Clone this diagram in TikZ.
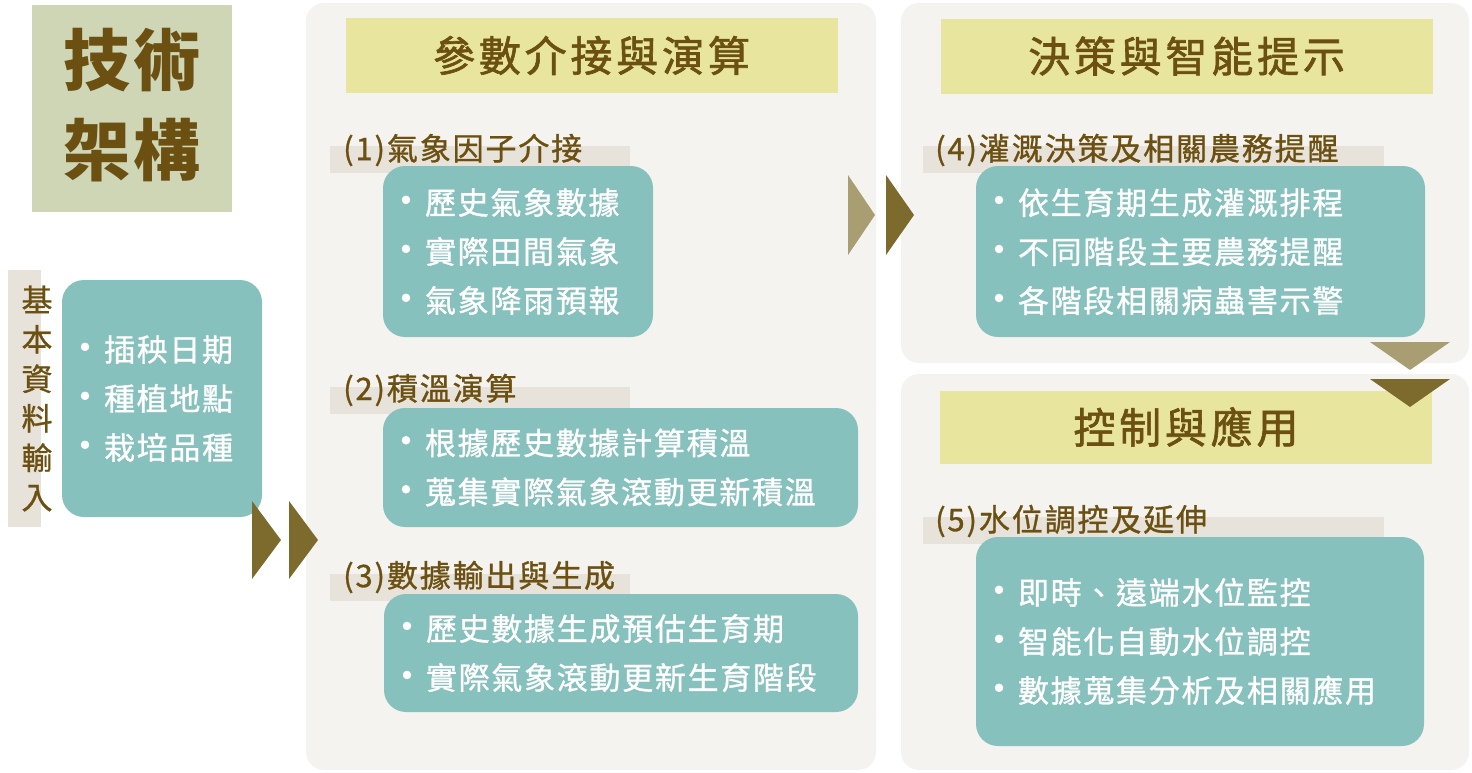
\documentclass[tikz,border=0pt]{standalone}
\usepackage{fontspec}
\setmainfont{Noto Sans CJK TC}
\newfontfamily\titlefont[LetterSpace=4]{Noto Sans CJK TC}
\newfontfamily\headfont[LetterSpace=9, FakeBold=1.5]{Noto Sans CJK TC}
\newfontfamily\labelfont[LetterSpace=6, FakeBold=1]{Noto Sans CJK TC}
\newfontfamily\itemfont[LetterSpace=5.5, FakeBold=1]{Noto Sans CJK TC}
\newfontfamily\sidefont[FakeBold=1]{Noto Sans CJK TC}
\usetikzlibrary{positioning}

\definecolor{txtbrown}{HTML}{6B5012}
\definecolor{titlebg}{HTML}{CED6B6}
\definecolor{tealbg}{HTML}{87C1BE}
\definecolor{panelbg}{HTML}{F4F3EF}
\definecolor{headbg}{HTML}{E8E69E}
\definecolor{stripbg}{HTML}{E7E3DA}
\definecolor{arrdark}{HTML}{7C6B2D}
\definecolor{arrlight}{HTML}{A89E72}

\newcommand{\bul}{\makebox[22pt][l]{\makebox[6pt][c]{\fontsize{38}{38}\selectfont\textbullet}}}

\begin{document}
\begin{tikzpicture}[
        x=1pt, y=-1pt,
        panel/.style = {rectangle, rounded corners=18pt, fill=panelbg, inner sep=0pt},
        header/.style = {rectangle, fill=headbg, inner sep=0pt, minimum width=492pt, minimum height=75pt, text=txtbrown, font=\headfont\fontsize{42}{42}\selectfont},
        strip/.style = {rectangle, fill=stripbg, inner sep=0pt, minimum height=27pt},
        subhead/.style = {anchor=west, inner sep=0pt, text=txtbrown, font=\labelfont\fontsize{31}{31}\selectfont},
        tealbox/.style = {rectangle, rounded corners=22pt, fill=tealbg, text=white, align=left, inner xsep=20pt, inner ysep=0pt, font=\itemfont\fontsize{31}{49}\selectfont}
    ]
        \useasboundingbox (0,0) rectangle (1472,772);

        % Title
        \node[rectangle, fill=titlebg, minimum width=200pt, minimum height=207pt, inner sep=0pt] (title) at (132,108.5) {};
        \node[align=center, text=txtbrown, font=\titlefont\bfseries\fontsize{67}{90}\selectfont] (titletext) at (132,105) {技術\\架構};

        % Basic data input
        \node[strip, minimum width=33pt, minimum height=257pt] (basicstrip) at (24.5,398.5) {};
        \node[align=center, inner sep=0pt, text=txtbrown, font=\sidefont\fontsize{31}{39.5}\selectfont] (basiclbl) at (37,398.5) {基\\本\\資\\料\\輸\\入};
        \node[tealbox, text width=160pt, minimum height=237pt] (basicbox) at (162,398.5) {\bul 插秧日期\\ \bul 種植地點\\ \bul 栽培品種};

        % Panels
        \node[panel, minimum width=570pt, minimum height=767pt] (midpanel) at (591,386.5) {};
        \node[panel, minimum width=568pt, minimum height=360pt] (decpanel) at (1185,183) {};
        \node[panel, minimum width=568pt, minimum height=396pt] (ctlpanel) at (1185,572) {};

        % Headers
        \node[header] (midhead) at (591.5,55.5) {參數介接與演算};
        \node[header] (dechead) at (1186.5,56) {決策與智能提示};
        \node[header, minimum height=73pt] (ctlhead) at (1186,427) {控制與應用};

        % Label strips
        \node[strip, minimum width=300pt] (weatherstrip) at (480,159.5) {};
        \node[strip, minimum width=300pt] (heatstrip) at (480,400.5) {};
        \node[strip, minimum width=300pt] (outstrip) at (480,587.5) {};
        \node[strip, minimum width=461pt] (irrstrip) at (1153.5,159.5) {};
        \node[strip, minimum width=461pt] (waterstrip) at (1153.5,530.5) {};

        % Item boxes
        \node[tealbox, text width=230pt, minimum height=171pt] (weatherbox) at (518,251.5) {\bul 歷史氣象數據\\ \bul 實際田間氣象\\ \bul 氣象降雨預報};
        \node[tealbox, text width=435pt, minimum height=119pt] (heatbox) at (620.5,467.5) {\bul 根據歷史數據計算積溫\\ \bul 蒐集實際氣象滾動更新積溫};
        \node[tealbox, text width=434pt, minimum height=118pt] (outbox) at (621,653) {\bul 歷史數據生成預估生育期\\ \bul 實際氣象滾動更新生育階段};
        \node[tealbox, text width=409pt, minimum height=171pt] (irrbox) at (1200.5,251.5) {\bul 依生育期生成灌溉排程\\ \bul 不同階段主要農務提醒\\ \bul 各階段相關病蟲害示警};
        \node[tealbox, text width=408pt, minimum height=209pt] (waterbox) at (1200,641.5) {\bul 即時、遠端水位監控\\ \bul 智能化自動水位調控\\ \bul 數據蒐集分析及相關應用};

        % Labels
        \node[subhead] (weatherlbl) at (343,150) {(1)氣象因子介接};
        \node[subhead] (heatlbl) at (343,390) {(2)積溫演算};
        \node[subhead] (outlbl) at (343,577) {(3)數據輸出與生成};
        \node[subhead] (irrlbl) at (935,150) {(4)灌溉決策及相關農務提醒};
        \node[subhead] (waterlbl) at (935,521) {(5)水位調控及延伸};

        % Arrows
        \fill[arrdark] (252,501) -- (281,540) -- (252,579) -- cycle;
        \fill[arrdark] (289,501) -- (318,540) -- (289,579) -- cycle;
        \fill[arrlight] (848,175) -- (875,215) -- (848,255) -- cycle;
        \fill[arrdark] (886,175) -- (914,215) -- (886,255) -- cycle;
        \fill[arrlight] (1370,342) -- (1450,342) -- (1410,370) -- cycle;
        \fill[arrdark] (1370,379) -- (1450,379) -- (1410,407) -- cycle;
    \end{tikzpicture}
\end{document}
